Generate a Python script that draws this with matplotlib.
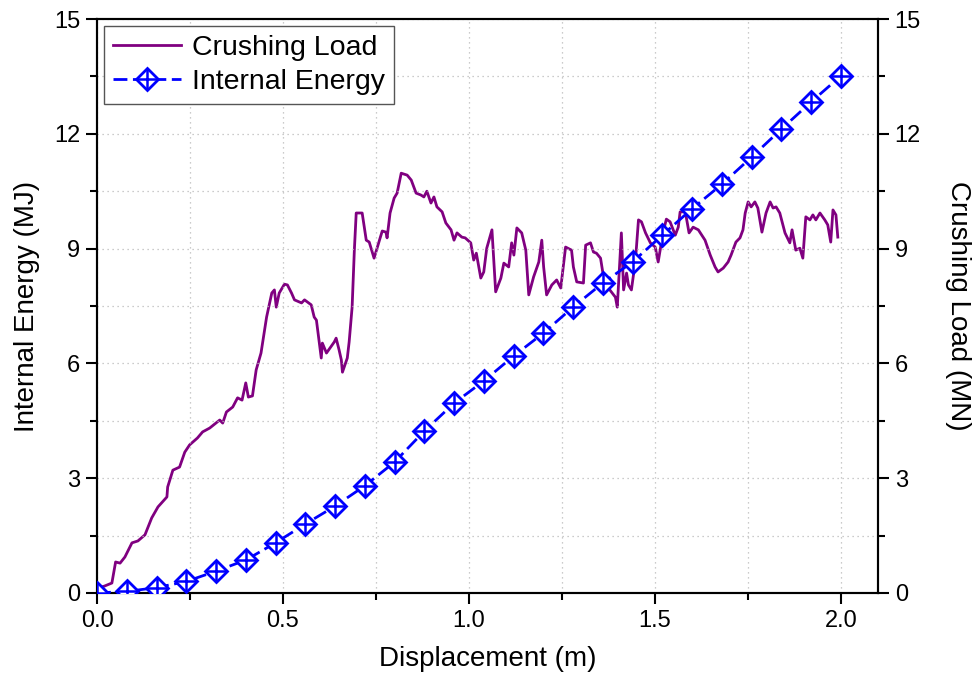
import matplotlib
matplotlib.use("Agg")
import matplotlib.pyplot as plt
from matplotlib.ticker import MultipleLocator

plt.rcParams['font.family'] = ['Liberation Sans', 'DejaVu Sans']

# Internal energy (MJ), markers every 0.08 m
energy_x = [0.00, 0.08, 0.16, 0.24, 0.32, 0.40, 0.48, 0.56, 0.64, 0.72, 0.80, 0.88, 0.96,
            1.04, 1.12, 1.20, 1.28, 1.36, 1.44, 1.52, 1.60, 1.68, 1.76, 1.84, 1.92, 2.00]
energy_y = [0.00, 0.04, 0.14, 0.30, 0.57, 0.86, 1.31, 1.80, 2.27, 2.80, 3.42, 4.23, 4.96,
            5.54, 6.19, 6.79, 7.47, 8.10, 8.65, 9.35, 10.04, 10.68, 11.39, 12.12, 12.83, 13.51]

# Crushing load (MN)
load_x = [0.0, 0.003, 0.02, 0.04, 0.05, 0.062, 0.075, 0.094, 0.11, 0.129, 0.147, 0.164, 0.188,
          0.19, 0.204, 0.222, 0.236, 0.249, 0.27, 0.284, 0.303, 0.33, 0.338, 0.348, 0.365,
          0.378, 0.39, 0.40, 0.407, 0.418, 0.428, 0.441, 0.456, 0.47, 0.477, 0.482, 0.49,
          0.504, 0.512, 0.523, 0.531, 0.55, 0.558, 0.576, 0.584, 0.59, 0.603, 0.606, 0.617,
          0.638, 0.643, 0.651, 0.657, 0.66, 0.673, 0.678, 0.686, 0.692, 0.697, 0.713, 0.724,
          0.732, 0.745, 0.753, 0.767, 0.777, 0.78, 0.788, 0.799, 0.807, 0.818, 0.834, 0.845,
          0.858, 0.871, 0.879, 0.887, 0.898, 0.906, 0.914, 0.928, 0.938, 0.952, 0.96, 0.968,
          0.981, 0.99, 1.005, 1.013, 1.02, 1.032, 1.04, 1.048, 1.062, 1.072, 1.086, 1.094,
          1.107, 1.115, 1.121, 1.129, 1.142, 1.153, 1.161, 1.174, 1.188, 1.196, 1.201, 1.209,
          1.223, 1.236, 1.247, 1.26, 1.276, 1.281, 1.29, 1.308, 1.314, 1.327, 1.335, 1.343,
          1.354, 1.362, 1.367, 1.375, 1.394, 1.399, 1.41, 1.416, 1.424, 1.429, 1.437, 1.448,
          1.456, 1.464, 1.475, 1.488, 1.501, 1.509, 1.522, 1.531, 1.541, 1.555, 1.563, 1.568,
          1.582, 1.592, 1.603, 1.617, 1.635, 1.649, 1.662, 1.670, 1.684, 1.697, 1.705, 1.718,
          1.729, 1.737, 1.743, 1.751, 1.759, 1.769, 1.777, 1.788, 1.799, 1.810, 1.818, 1.826,
          1.836, 1.850, 1.863, 1.869, 1.879, 1.890, 1.898, 1.906, 1.917, 1.925, 1.933, 1.944,
          1.957, 1.965, 1.973, 1.979, 1.987, 1.992]
load_y = [0.10, 0.13, 0.18, 0.26, 0.81, 0.78, 0.94, 1.31, 1.36, 1.52, 1.96, 2.25, 2.51,
          2.77, 3.21, 3.29, 3.68, 3.87, 4.05, 4.21, 4.31, 4.52, 4.44, 4.73, 4.86,
          5.10, 5.04, 5.49, 5.12, 5.15, 5.83, 6.27, 7.21, 7.84, 7.92, 7.47, 7.84,
          8.07, 8.05, 7.84, 7.66, 7.58, 7.66, 7.53, 7.21, 7.13, 6.14, 6.53, 6.27,
          6.56, 6.66, 6.35, 6.09, 5.77, 6.14, 6.56, 7.47, 8.96, 9.93, 9.93, 9.22,
          9.17, 8.75, 9.01, 9.46, 9.43, 9.28, 9.93, 10.32, 10.45, 10.97, 10.92, 10.79,
          10.45, 10.40, 10.35, 10.50, 10.19, 10.35, 10.09, 9.96, 9.67, 9.49, 9.22, 9.41,
          9.30, 9.28, 9.15, 8.70, 8.88, 8.23, 8.39, 9.01, 9.49, 7.87, 8.23, 8.62,
          8.52, 9.15, 8.83, 9.54, 9.41, 8.96, 7.79, 8.26, 8.65, 9.22, 8.52, 7.79,
          8.05, 8.18, 7.97, 9.04, 8.96, 8.52, 8.13, 8.10, 9.09, 9.15, 8.91, 8.88,
          8.75, 8.26, 7.92, 7.97, 7.73, 7.47, 9.41, 7.92, 8.36, 8.05, 7.92, 8.70,
          9.75, 9.70, 9.41, 9.15, 9.04, 8.65, 9.41, 9.77, 9.70, 9.35, 9.56, 9.96,
          9.96, 9.41, 9.56, 9.49, 9.22, 8.83, 8.52, 8.39, 8.49, 8.65, 8.83, 9.17,
          9.28, 9.49, 9.93, 10.22, 10.09, 10.22, 10.06, 9.43, 9.93, 10.22, 10.06, 10.09,
          9.93, 9.41, 9.15, 9.49, 8.96, 9.01, 8.75, 9.83, 9.75, 9.88, 9.75, 9.93,
          9.75, 9.62, 9.17, 10.01, 9.88, 9.30]

x_ticks = [0.0, 0.5, 1.0, 1.5, 2.0]
y_ticks = [0, 3, 6, 9, 12, 15]

fig = plt.figure(figsize=(9.74, 6.86), dpi=100)
ax = fig.add_axes([0.0996, 0.1356, 0.8018, 0.8367])
ax2 = ax.twinx()

purple = '#800080'
blue = '#0000FF'

l1, = ax2.plot(load_x, load_y, color=purple, lw=2.0, zorder=2)
ax.set_zorder(ax2.get_zorder() + 1)
ax.patch.set_visible(False)
l2, = ax.plot(energy_x, energy_y, color=blue, lw=2.0, linestyle=(0, (5, 2)),
              marker='D', ms=11, mfc='white', mec=blue, mew=2.0, zorder=3)
l3, = ax.plot(energy_x, energy_y, color=blue, lw=0, marker='+', ms=15, mew=1.8, zorder=4)

for a in (ax, ax2):
    a.set_xlim(0, 2.1)
    a.set_ylim(0, 15)
    a.set_yticks(y_ticks)
    a.yaxis.set_minor_locator(MultipleLocator(1.5))
    a.tick_params(axis='both', which='major', direction='out', length=8, width=1.5,
                  labelsize=17, pad=4)
    a.tick_params(axis='both', which='minor', direction='out', length=5, width=1.5)
    for s in a.spines.values():
        s.set_linewidth(1.5)

ax.set_xticks(x_ticks)
ax.set_xticklabels([f"{v:.1f}" for v in x_ticks])
ax.xaxis.set_minor_locator(MultipleLocator(0.25))
ax.tick_params(top=False, which='both')
ax2.tick_params(top=False, which='both')

ax.grid(True, which='both', linestyle=(0, (1, 3)), color='#bbbbbb', linewidth=0.9)

ax.set_xlabel('Displacement (m)', fontsize=20, labelpad=10)
ax.set_ylabel('Internal Energy (MJ)', fontsize=20, labelpad=10)
ax2.set_ylabel('Crushing Load (MN)', fontsize=20, rotation=270, labelpad=36)

leg = ax.legend([l1, (l2, l3)], ['Crushing Load', 'Internal Energy'], loc='upper left',
                fontsize=20.5, frameon=True, fancybox=False, edgecolor='#555555',
                framealpha=1, handlelength=2.4, numpoints=1, borderpad=0.3,
                labelspacing=0.3, handletextpad=0.4, borderaxespad=0.25)
leg.get_frame().set_linewidth(1.0)

fig.savefig('out.png', dpi=100)
